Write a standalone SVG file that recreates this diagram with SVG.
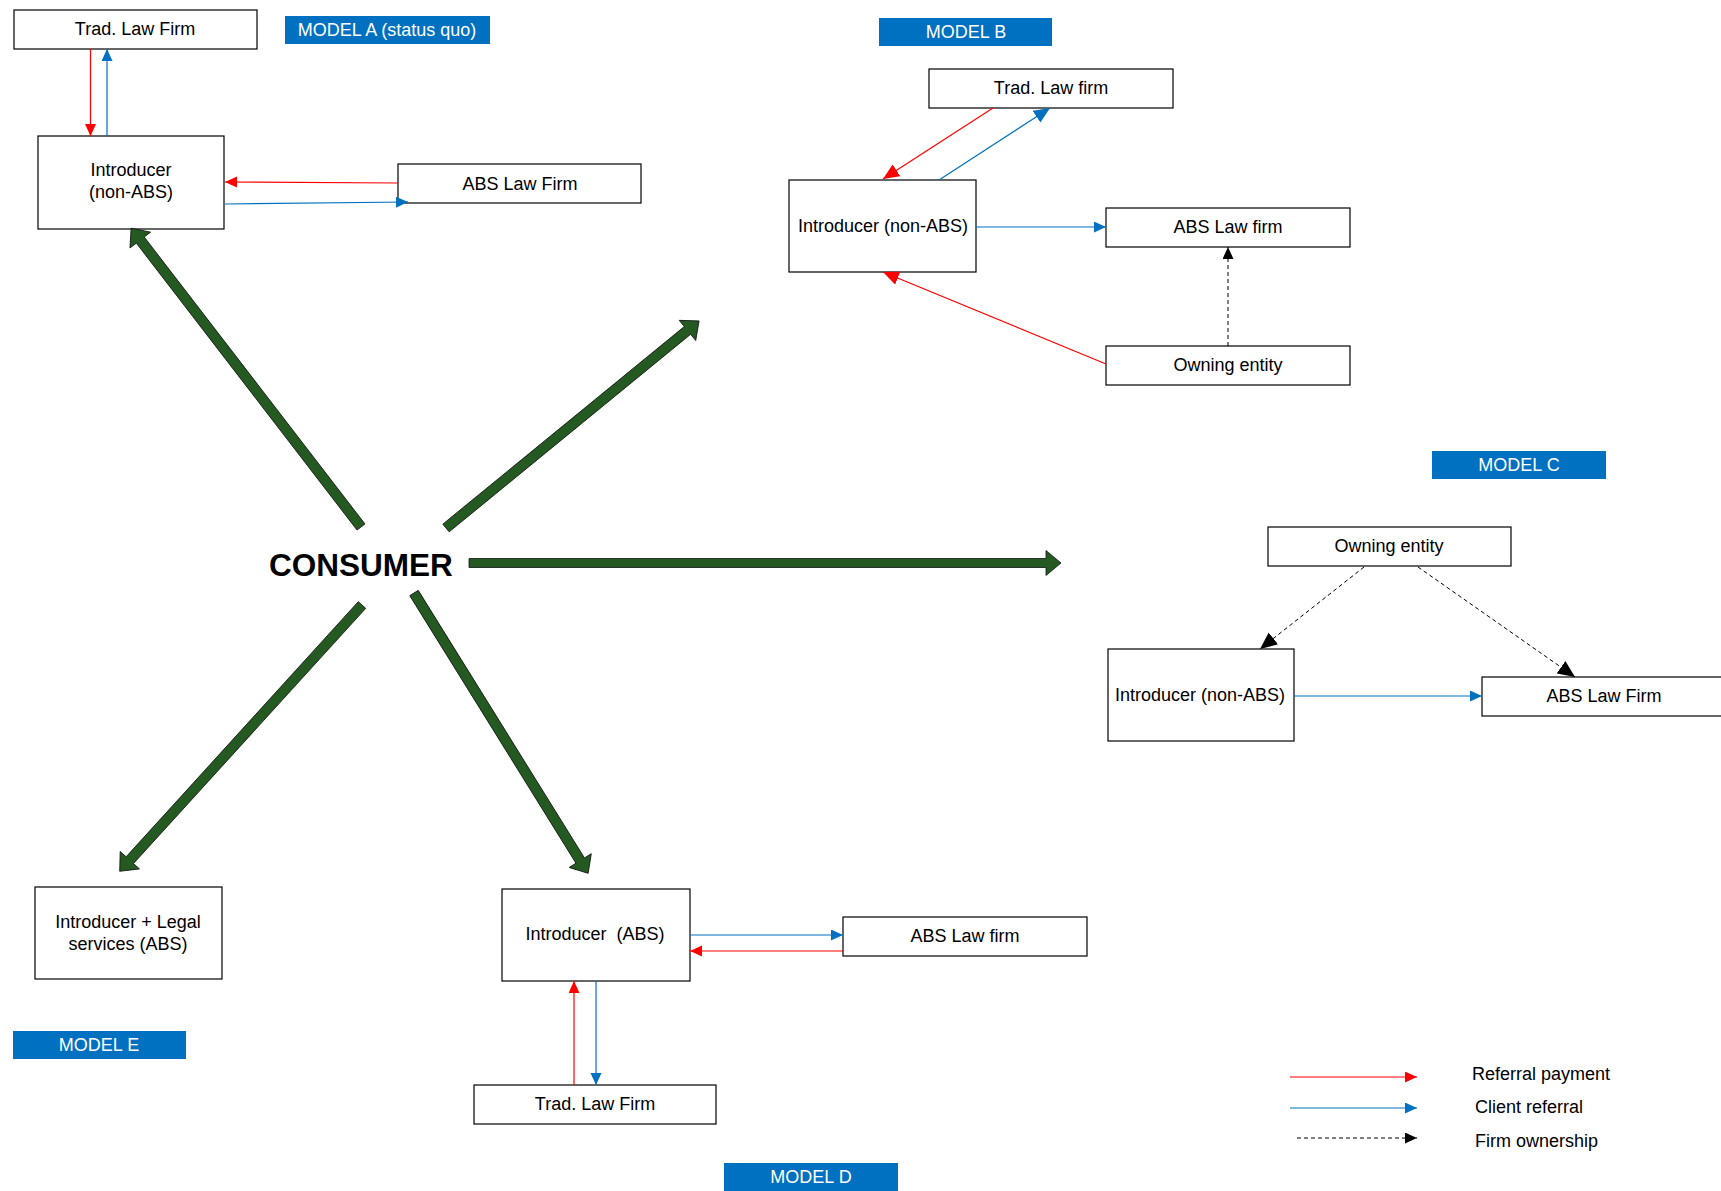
<svg xmlns="http://www.w3.org/2000/svg" width="1721" height="1191" viewBox="0 0 1721 1191">
<style>
.box{fill:#fff;stroke:#000;stroke-width:1.2}
.t{font-family:"Liberation Sans",Arial,sans-serif;font-size:18px;fill:#000;text-anchor:middle}
.lt{font-family:"Liberation Sans",Arial,sans-serif;font-size:18px;fill:#000}
.lbl{fill:#0070c0}
.lblt{font-family:"Liberation Sans",Arial,sans-serif;font-size:18px;fill:#fff;text-anchor:middle}
.red{stroke:#ff0000;stroke-width:1.2;fill:none;marker-end:url(#mr)}
.blue{stroke:#0070c0;stroke-width:1.2;fill:none;marker-end:url(#mb)}
.redL{stroke:#ff0000;stroke-width:1.2;fill:none;marker-end:url(#mrL)}
.blueL{stroke:#0070c0;stroke-width:1.2;fill:none;marker-end:url(#mbL)}
.dash{stroke:#000;stroke-width:1;stroke-dasharray:4,3;fill:none;marker-end:url(#mk)}
.dashL{stroke:#000;stroke-width:1;stroke-dasharray:4,3;fill:none;marker-end:url(#mkL)}
.green{fill:#245a22;stroke:#111;stroke-width:0.8}
</style>
<defs>
<marker id="mr" markerUnits="userSpaceOnUse" markerWidth="13" markerHeight="12" refX="12" refY="5.5" orient="auto"><path d="M0,0 L12,5.5 L0,11 z" fill="#ff0000"/></marker>
<marker id="mb" markerUnits="userSpaceOnUse" markerWidth="13" markerHeight="12" refX="12" refY="5.5" orient="auto"><path d="M0,0 L12,5.5 L0,11 z" fill="#0070c0"/></marker>
<marker id="mk" markerUnits="userSpaceOnUse" markerWidth="13" markerHeight="12" refX="12" refY="5.5" orient="auto"><path d="M0,0 L12,5.5 L0,11 z" fill="#000"/></marker>
<marker id="mrL" markerUnits="userSpaceOnUse" markerWidth="17" markerHeight="15" refX="16" refY="7" orient="auto"><path d="M0,0 L16,7 L0,14 z" fill="#ff0000"/></marker>
<marker id="mbL" markerUnits="userSpaceOnUse" markerWidth="17" markerHeight="15" refX="16" refY="7" orient="auto"><path d="M0,0 L16,7 L0,14 z" fill="#0070c0"/></marker>
<marker id="mkL" markerUnits="userSpaceOnUse" markerWidth="18" markerHeight="16" refX="17" refY="7.5" orient="auto"><path d="M0,0 L17,7.5 L0,15 z" fill="#000"/></marker>
</defs>
<rect width="1721" height="1191" fill="#fff"/>

<!-- Labels -->
<g id="label-model-a"><rect class="lbl" x="285" y="16" width="205" height="28"/><text class="lblt" x="387" y="36">MODEL A (status quo)</text></g>
<g id="label-model-b"><rect class="lbl" x="879" y="18" width="173" height="28"/><text class="lblt" x="966" y="38">MODEL B</text></g>
<g id="label-model-c"><rect class="lbl" x="1432" y="451" width="174" height="28"/><text class="lblt" x="1519" y="471">MODEL C</text></g>
<g id="label-model-d"><rect class="lbl" x="724" y="1163" width="174" height="30"/><text class="lblt" x="811" y="1183">MODEL D</text></g>
<g id="label-model-e"><rect class="lbl" x="13" y="1031" width="173" height="28"/><text class="lblt" x="99" y="1051">MODEL E</text></g>

<!-- Model A -->
<g id="a-trad"><rect class="box" x="14" y="10" width="243" height="39"/><text class="t" x="135" y="35">Trad. Law Firm</text></g>
<g id="a-intro"><rect class="box" x="38" y="136" width="186" height="93"/><text class="t" x="131" y="176">Introducer</text><text class="t" x="131" y="198">(non-ABS)</text></g>
<g id="a-abs"><rect class="box" x="398" y="164" width="243" height="39"/><text class="t" x="520" y="190">ABS Law Firm</text></g>

<!-- Model B -->
<g id="b-trad"><rect class="box" x="929" y="69" width="244" height="39"/><text class="t" x="1051" y="94">Trad. Law firm</text></g>
<g id="b-intro"><rect class="box" x="789" y="180" width="187" height="92"/><text class="t" x="883" y="232">Introducer (non-ABS)</text></g>
<g id="b-abs"><rect class="box" x="1106" y="208" width="244" height="39"/><text class="t" x="1228" y="233">ABS Law firm</text></g>
<g id="b-owning"><rect class="box" x="1106" y="346" width="244" height="39"/><text class="t" x="1228" y="371">Owning entity</text></g>

<!-- Model C -->
<g id="c-owning"><rect class="box" x="1268" y="527" width="243" height="39"/><text class="t" x="1389" y="552">Owning entity</text></g>
<g id="c-intro"><rect class="box" x="1108" y="649" width="186" height="92"/><text class="t" x="1200" y="701">Introducer (non-ABS)</text></g>
<g id="c-abs"><rect class="box" x="1482" y="677" width="250" height="39"/><text class="t" x="1604" y="702">ABS Law Firm</text></g>

<!-- Consumer -->
<g id="consumer"><text x="361" y="576" font-family="Liberation Sans,Arial,sans-serif" font-size="31.5" font-weight="bold" text-anchor="middle" fill="#000">CONSUMER</text></g>

<!-- Model E -->
<g id="e-intro-legal"><rect class="box" x="35" y="887" width="187" height="92"/><text class="t" x="128" y="928">Introducer + Legal</text><text class="t" x="128" y="950">services (ABS)</text></g>

<!-- Model D -->
<g id="d-intro"><rect class="box" x="502" y="889" width="188" height="92"/><text class="t" x="595" y="940" xml:space="preserve">Introducer  (ABS)</text></g>
<g id="d-abs"><rect class="box" x="843" y="917" width="244" height="39"/><text class="t" x="965" y="942">ABS Law firm</text></g>
<g id="d-trad"><rect class="box" x="474" y="1085" width="242" height="39"/><text class="t" x="595" y="1110">Trad. Law Firm</text></g>

<!-- Legend -->
<g id="legend">
<line class="red" x1="1290" y1="1077" x2="1417" y2="1077"/>
<line class="blue" x1="1290" y1="1108" x2="1417" y2="1108"/>
<line class="dash" x1="1297" y1="1138" x2="1417" y2="1138"/>
<text class="lt" x="1472" y="1080">Referral payment</text>
<text class="lt" x="1475" y="1113">Client referral</text>
<text class="lt" x="1475" y="1147">Firm ownership</text>
</g>

<!-- Connectors -->
<g id="connectors">
<!-- Model A -->
<line class="red" x1="90.5" y1="49" x2="90.5" y2="136"/>
<line class="blue" x1="107" y1="136" x2="107" y2="49"/>
<line class="red" x1="398" y1="183" x2="225" y2="182"/>
<line class="blue" x1="225" y1="204" x2="408" y2="202"/>
<!-- Model B -->
<line class="redL" x1="993" y1="108" x2="883" y2="179"/>
<line class="blueL" x1="939" y1="180" x2="1050" y2="108"/>
<line class="blue" x1="976" y1="227" x2="1106" y2="227"/>
<line class="dash" x1="1228" y1="346" x2="1228" y2="247"/>
<line class="redL" x1="1106" y1="364" x2="883" y2="272"/>
<!-- Model C -->
<line class="dashL" x1="1364" y1="567" x2="1260" y2="649"/>
<line class="dashL" x1="1418" y1="567" x2="1575" y2="677"/>
<line class="blue" x1="1294" y1="696" x2="1482" y2="696"/>
<!-- Model D -->
<line class="blue" x1="690" y1="935" x2="843" y2="935"/>
<line class="red" x1="843" y1="951" x2="690" y2="951"/>
<line class="red" x1="574" y1="1085" x2="574" y2="981"/>
<line class="blue" x1="596" y1="981" x2="596" y2="1085"/>
<!-- Consumer arrows -->
<polygon class="green" transform="translate(361,527) rotate(-127.57)" points="0,-5 362,-5 362,-13 377,0 362,13 362,5 0,5"/>
<polygon class="green" transform="translate(446,528) rotate(-39.29)" points="0,-5 312,-5 312,-13 327,0 312,13 312,5 0,5"/>
<polygon class="green" transform="translate(469,563)" points="0,-4.5 577,-4.5 577,-12.5 592,0 577,12.5 577,4.5 0,4.5"/>
<polygon class="green" transform="translate(362,605) rotate(132.3)" points="0,-5 345,-5 345,-13 360,0 345,13 345,5 0,5"/>
<polygon class="green" transform="translate(414,593) rotate(58.15)" points="0,-5 315,-5 315,-13 330,0 315,13 315,5 0,5"/>
</g>
</svg>
